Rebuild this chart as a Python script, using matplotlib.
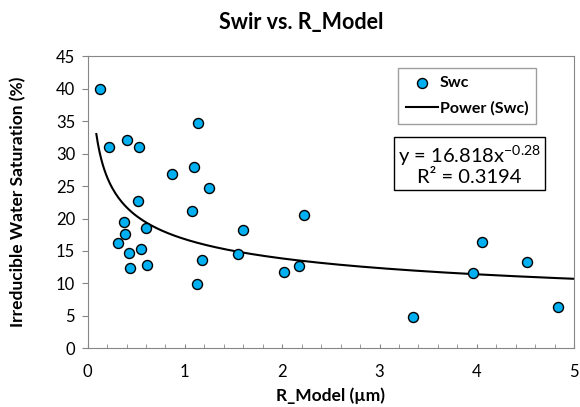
import numpy as np
import matplotlib
matplotlib.use("Agg")
import matplotlib.pyplot as plt
from matplotlib.ticker import MultipleLocator

plt.rcParams['font.family'] = ['Lato', 'DejaVu Sans']

# data
r_model = [0.13, 0.22, 0.40, 0.53, 1.13, 0.87, 1.09, 1.25, 0.52, 1.07,
           2.22, 0.37, 0.38, 0.60, 1.60, 0.31, 0.43, 0.55, 0.44, 0.61,
           1.18, 1.12, 1.55, 2.02, 2.17, 4.05, 4.51, 3.96, 3.34, 4.83]
swc = [40.0, 31.0, 32.1, 31.0, 34.7, 26.8, 28.0, 24.7, 22.7, 21.2,
       20.5, 19.5, 17.6, 18.5, 18.2, 16.3, 14.7, 15.25, 12.4, 12.8,
       13.6, 9.95, 14.6, 11.75, 12.7, 16.4, 13.3, 11.65, 4.87, 6.3]
coef_a = 16.818
coef_b = -0.28
r2 = 0.3194

fig = plt.figure(figsize=(5.8, 4.07), dpi=100)
ax = fig.add_axes([0.151, 0.144, 0.839, 0.718])

ax.scatter(r_model, swc, s=52, color='#00B0F0', edgecolors='black',
           linewidths=1.0, zorder=3, label='Swc')
xs = np.linspace(0.09, 5, 300)
ax.plot(xs, coef_a * xs ** coef_b, color='black', lw=1.5, zorder=2,
        label='Power (Swc)')

ax.set_xlim(0, 5)
ax.set_ylim(0, 45)
ax.xaxis.set_major_locator(MultipleLocator(1))
ax.xaxis.set_minor_locator(MultipleLocator(0.2))
ax.yaxis.set_major_locator(MultipleLocator(5))
ax.tick_params(axis='x', which='both', direction='in', length=3,
               color='#868686', labelsize=12, pad=11)
ax.tick_params(axis='y', direction='out', length=4, color='#868686',
               labelsize=12, pad=5)
for s in ax.spines.values():
    s.set_color('#868686')

ax.set_xlabel('R_Model (µm)', fontsize=12.5, fontweight='bold')
ax.set_ylabel('Irreducible Water Saturation (%)', fontsize=12.5,
              fontweight='bold')
ax.xaxis.set_label_coords(0.5, -0.133)
ax.yaxis.set_label_coords(-0.125, 0.5)
fig.suptitle('Swir vs. R_Model', x=0.52, y=0.97, fontsize=15.5,
             fontweight='bold')

leg = ax.legend(loc='upper left', bbox_to_anchor=(0.638, 0.959),
                borderaxespad=0, fancybox=False, edgecolor='#868686',
                prop={'weight': 'bold', 'size': 11.5}, handlelength=2.0,
                handletextpad=0.1, borderpad=0.5, labelspacing=0.7)
leg.get_frame().set_linewidth(1.0)

ax.text(0.785, 0.629,
        'y = 16.818x$^{\\mathregular{-0.28}}$\nR² = ' + str(r2),
        transform=ax.transAxes, ha='center', va='center', fontsize=14.5,
        linespacing=1.1,
        bbox=dict(boxstyle='square,pad=0.2', fc='white', ec='black', lw=1))

fig.savefig('out.png', dpi=100)
